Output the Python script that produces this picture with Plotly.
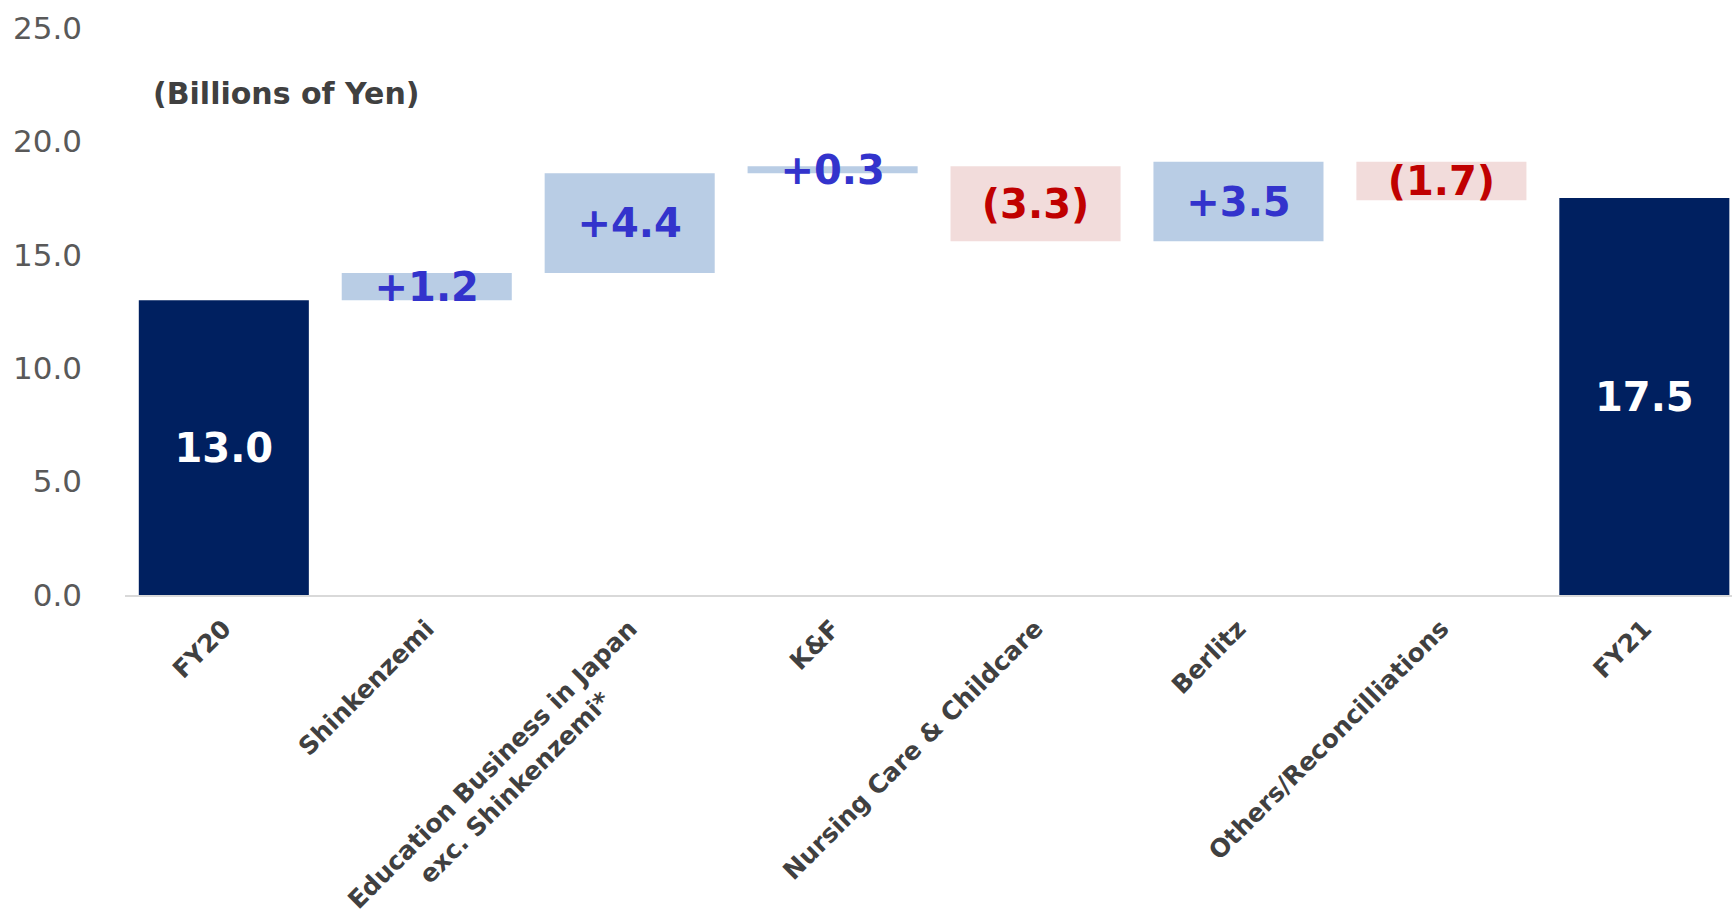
import plotly.graph_objects as go

# Operating income bridge, FY20 -> FY21 (billions of yen)
categories = [
    "FY20",
    "Shinkenzemi",
    "Education Business in Japan<br>exc. Shinkenzemi*" + "\u00a0" * 8,
    "K&F",
    "Nursing Care & Childcare",
    "Berlitz",
    "Others/Reconcilliations",
    "FY21",
]
values = [13.0, 1.2, 4.4, 0.3, -3.3, 3.5, -1.7, 17.5]
measures = ["absolute", "relative", "relative", "relative",
            "relative", "relative", "relative", "absolute"]
y_ticks = [0, 5, 10, 15, 20, 25]

NAVY = "#002060"
UP_FILL = "#B9CDE5"
DOWN_FILL = "#F2DCDB"
UP_TEXT = "#3333CC"
DOWN_TEXT = "#C00000"
FONT = "DejaVu Sans"


def label_for(v, m):
    if m == "absolute":
        return f"{v:.1f}"
    return f"+{v:.1f}" if v >= 0 else f"({abs(v):.1f})"


labels = [label_for(v, m) for v, m in zip(values, measures)]
text_colors = [
    "white" if m == "absolute" else (UP_TEXT if v >= 0 else DOWN_TEXT)
    for v, m in zip(values, measures)
]

fig = go.Figure(
    go.Waterfall(
        x=categories,
        y=values,
        measure=measures,
        text=labels,
        textposition="inside",
        insidetextanchor="middle",
        constraintext="none",
        textangle=0,
        insidetextfont=dict(family=FONT, size=40, color=text_colors),
        textfont=dict(family=FONT, size=40, color=text_colors),
        connector=dict(visible=False),
        increasing=dict(marker=dict(color=UP_FILL)),
        decreasing=dict(marker=dict(color=DOWN_FILL)),
        totals=dict(marker=dict(color=NAVY)),
        hoverinfo="skip",
    )
)

fig.update_traces(texttemplate="<b>%{text}</b>")

fig.add_annotation(
    text="<b>(Billions of Yen)</b>",
    xref="paper", yref="y",
    x=0.016, y=22.1,
    xanchor="left", yanchor="middle",
    showarrow=False,
    font=dict(family=FONT, size=30, color="#404040"),
)

fig.update_layout(
    width=1732,
    height=922,
    margin=dict(l=125, r=0, t=28, b=327, autoexpand=False),
    paper_bgcolor="white",
    plot_bgcolor="white",
    showlegend=False,
    waterfallgap=0.162,
    font=dict(family=FONT),
)

fig.update_xaxes(
    type="category",
    range=[-0.487, 7.432],
    automargin=False,
    tickangle=-45,
    tickfont=dict(family=FONT, size=25, color="#404040"),
    showline=True,
    linecolor="#D9D9D9",
    linewidth=2,
    showgrid=False,
    ticks="",
    ticklabelstandoff=7,
    tickprefix="<b>",
    ticksuffix="</b>",
)

fig.update_yaxes(
    range=[0, 25],
    automargin=False,
    tickvals=y_ticks,
    tickformat=".1f",
    tickfont=dict(family=FONT, size=31, color="#595959"),
    showgrid=False,
    zeroline=False,
    showline=False,
    ticks="",
    ticklabelstandoff=42,
)

fig.write_html("out.html")
